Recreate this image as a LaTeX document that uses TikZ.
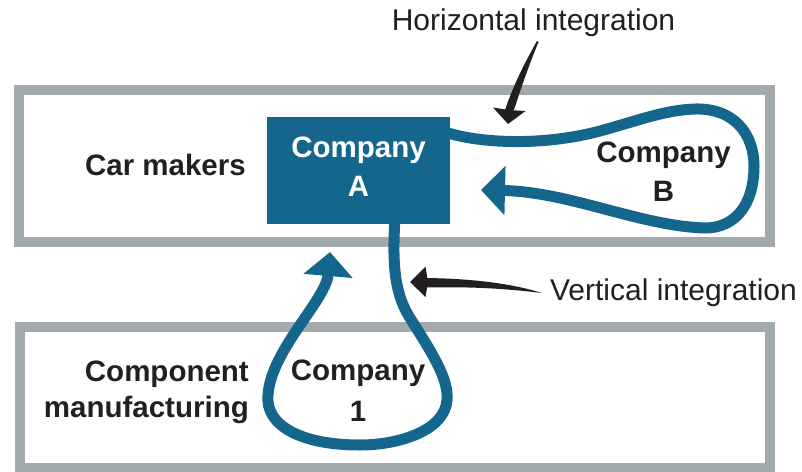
\documentclass[tikz,border=0pt]{standalone}
\usepackage{fontspec}
\setmainfont{Liberation Sans}
\usetikzlibrary{arrows.meta}
\definecolor{blueA}{HTML}{15668D}
\definecolor{grayline}{HTML}{A2AAAD}
\definecolor{ink}{HTML}{231F20}
\begin{document}
\begin{tikzpicture}[x=1pt,y=-1pt,
  graybox/.style={draw=grayline, line width=10pt, fill=white, inner sep=0pt},
  compbox/.style={fill=blueA, inner sep=0pt, minimum width=183pt, minimum height=107pt},
  regtxt/.style={font=\fontsize{30}{36}\selectfont, text=ink, inner sep=0pt},
  boldtxt/.style={font=\bfseries\fontsize{29.5}{39}\selectfont, text=ink, inner sep=0pt, align=center},
  loopline/.style={draw=blueA, line width=11pt, -{Triangle[length=24pt,width=48pt]}},
  blackarrow/.style={fill=ink, draw=none}
]
\useasboundingbox (0,0) rectangle (802,471);
% boxes
\node[graybox, minimum width=750.5pt, minimum height=152pt] (cars) at (394.25,165.5) {};
\node[graybox, minimum width=750pt, minimum height=141.5pt] (comps) at (394.5,397.25) {};
\node[compbox] (A) at (358.5,170.5) {};
% connector ends
\coordinate (hstart) at (442,131);
\coordinate (htip) at (481,190);
\coordinate (vstart) at (395,216);
\coordinate (vtip) at (330,252);
% horizontal loop (Company A -> Company B -> Company A)
\draw[loopline] (hstart) .. controls (475,143) and (540,147) .. (600,131)
  .. controls (640,120) and (665,110) .. (695,109)
  .. controls (735,108) and (754,135) .. (754,166)
  .. controls (754,205) and (735,228) .. (705,228)
  .. controls (640,226) and (570,192) .. (htip);
% vertical loop (Company A -> Company 1 -> Company A)
\draw[loopline] (vstart) .. controls (393,255) and (392,290) .. (410,318)
  .. controls (430,350) and (449,378) .. (447,400)
  .. controls (445,430) and (400,445) .. (360,445)
  .. controls (300,445) and (265,425) .. (268,395)
  .. controls (271,350) and (326,300) .. (vtip);
% texts
\node[boldtxt, text=white] (Atext) at (358.5,166.75) {Company\\A};
\node[boldtxt] (Btext) at (663.5,171.75) {Company\\B};
\node[boldtxt, font=\bfseries\fontsize{29.5}{41}\selectfont] (Onetext) at (358,390.75) {Company\\1};
\node[boldtxt, anchor=base east] (carmakers) at (246,175) {Car makers};
\node[boldtxt, align=right, font=\bfseries\fontsize{29.5}{36}\selectfont, anchor=east] (component) at (249,392.35) {Component\\manufacturing};
\node[regtxt, anchor=base] (hint) at (533.5,30) {Horizontal integration};
\node[regtxt, anchor=base] (vint) at (673.5,300) {Vertical integration};
% black pointer arrows
\fill[blackarrow] (537,41) .. controls (525,62) and (513,86) .. (505,110)
  -- (514,110) .. controls (521,88) and (529,65) .. (538.5,42) -- cycle;
\fill[blackarrow] (508,124) -- (493,107.5) -- (509,110) -- (525.5,111) -- cycle;
\fill[blackarrow] (425,278) .. controls (470,278.5) and (510,283) .. (542,293)
  .. controls (505,288.5) and (470,286.5) .. (425,287.5) -- cycle;
\fill[blackarrow] (410,282) -- (425.5,266.5) -- (428,282) -- (425.5,297) -- cycle;
\end{tikzpicture}
\end{document}
